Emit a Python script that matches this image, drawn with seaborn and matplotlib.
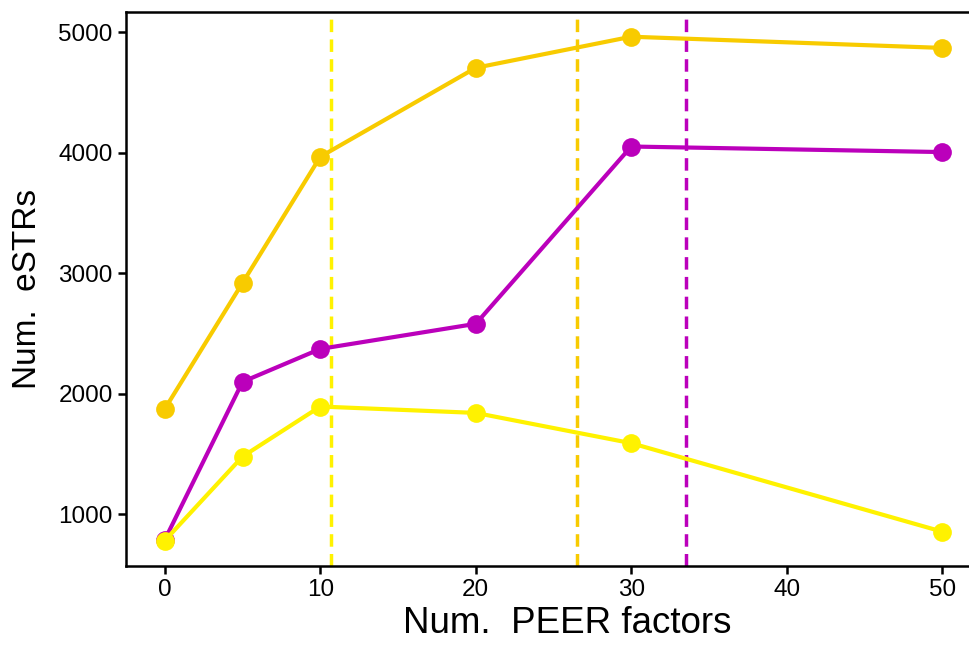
import matplotlib
matplotlib.use("Agg")
import matplotlib.pyplot as plt
import seaborn as sns
import pandas as pd

# PEER factor counts tested and number of eSTRs discovered per dataset
peer_factors = [0, 5, 10, 20, 30, 50]
series_names = ["gold", "magenta", "yellow"]
gold_vals = [1876, 2921, 3967, 4705, 4963, 4870]
magenta_vals = [790, 2100, 2373, 2581, 4052, 4006]
yellow_vals = [783, 1480, 1895, 1842, 1591, 857]

# chosen number of PEER factors per dataset (dashed guides)
chosen_factors = {"yellow": 10.7, "gold": 26.5, "magenta": 33.55}

colors = {"gold": "#F8CB00", "magenta": "#BB00BB", "yellow": "#FFF200"}

rows = []
for name, vals in zip(series_names, [gold_vals, magenta_vals, yellow_vals]):
    for x, y in zip(peer_factors, vals):
        rows.append({"factors": x, "estrs": y, "set": name})
df = pd.DataFrame(rows)

sns.set_style("ticks")
plt.rcParams["font.family"] = ["Liberation Sans", "DejaVu Sans"]

fig = plt.figure(figsize=(9.69, 6.47), dpi=100)
ax = fig.add_axes([0.130, 0.1252, 0.8824, 0.857])

for name, xv in chosen_factors.items():
    ax.axvline(xv, color=colors[name], linestyle=(0, (3.6, 2.1)), linewidth=2.5, zorder=1)

sns.lineplot(data=df, x="factors", y="estrs", hue="set", hue_order=series_names,
             palette=colors, marker="o", markersize=13.5, markeredgewidth=0,
             linewidth=3.0, legend=False, ax=ax, zorder=3)

ax.set_xlim(-2.5, 52.5)
ax.set_ylim(572, 5172)
ax.set_xticks([0, 10, 20, 30, 40, 50])
ax.set_yticks([1000, 2000, 3000, 4000, 5000])
ax.set_xlabel("Num.  PEER factors", fontsize=26.5, color="black")
ax.set_ylabel("Num.  eSTRs", fontsize=24, labelpad=11, color="black")
ax.xaxis.set_label_coords(0.516, -0.072)
ax.tick_params(labelsize=17.5, length=5.5, width=1.8, pad=4, color="black", labelcolor="black")
for s in ax.spines.values():
    s.set_linewidth(1.8)
    s.set_color("black")

fig.savefig("out.png", dpi=100)
